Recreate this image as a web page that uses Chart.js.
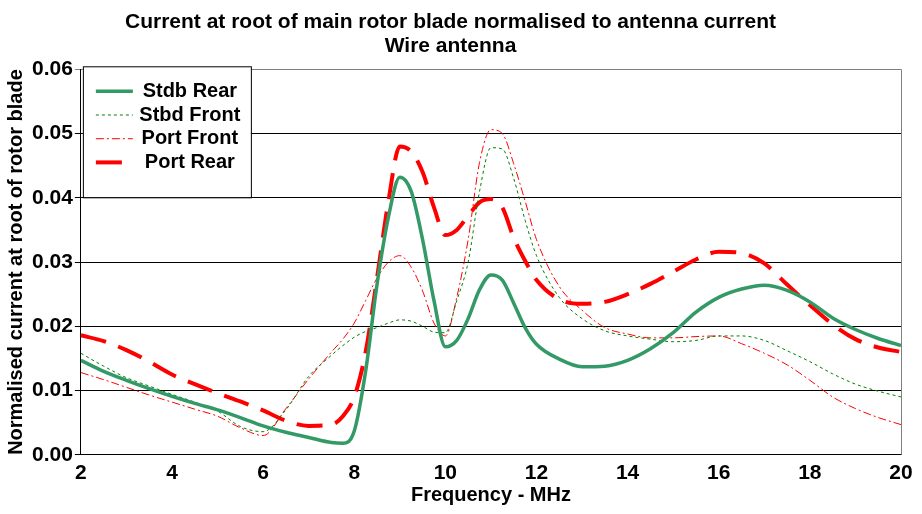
<!DOCTYPE html>
<html>
<head>
<meta charset="utf-8">
<script src="https://cdn.jsdelivr.net/npm/chart.js@4"></script>
<style>
  html, body { margin: 0; padding: 0; background: #fff; }
</style>
</head>
<body>
<canvas id="chart" width="922" height="514"></canvas>
<script>
// frequency points (MHz)
const freq = [2, 2.5, 3, 3.5, 4, 4.5, 5, 5.5, 6, 6.5, 7, 7.5, 7.75, 8, 8.25, 8.5, 8.75, 9, 9.25, 9.5, 9.75,
  10, 10.25, 10.5, 10.75, 11, 11.25, 11.5, 11.75, 12, 12.5, 13, 13.5, 14, 14.5, 15, 15.5, 16, 16.5, 17,
  17.5, 18, 18.5, 19, 19.5, 20];

const stdbRear = [0.0147, 0.0130, 0.0116, 0.0103, 0.0091, 0.0080, 0.0070, 0.0058, 0.0045, 0.0035, 0.0027,
  0.0019, 0.0018, 0.0037, 0.0130, 0.0265, 0.0370, 0.0432, 0.0410, 0.0335, 0.0240,
  0.0168, 0.0178, 0.0212, 0.0257, 0.0280, 0.0272, 0.0236, 0.0198, 0.0172, 0.0149, 0.0137, 0.0138, 0.0147,
  0.0165, 0.0190, 0.0222, 0.0245, 0.0258, 0.0264, 0.0256, 0.0238, 0.0213, 0.0195, 0.0181, 0.0170];

const stbdFront = [0.0158, 0.0138, 0.0120, 0.0107, 0.0094, 0.0082, 0.0068, 0.0044, 0.0036, 0.0070, 0.0122,
  0.0155, 0.0170, 0.0183, 0.0192, 0.0198, 0.0205, 0.0210, 0.0208, 0.0200, 0.0191,
  0.0190, 0.0240, 0.0300, 0.0410, 0.0478, 0.0476, 0.0430, 0.0365, 0.0310, 0.0245, 0.0212, 0.0193, 0.0185,
  0.0180, 0.0176, 0.0178, 0.0185, 0.0185, 0.0178, 0.0162, 0.0145, 0.0126, 0.0110, 0.0099, 0.0090];

const portFront = [0.0128, 0.0117, 0.0105, 0.0093, 0.0082, 0.0071, 0.0060, 0.0042, 0.0030, 0.0072, 0.0118,
  0.0160, 0.0180, 0.0205, 0.0240, 0.0275, 0.0300, 0.0310, 0.0292, 0.0255, 0.0205,
  0.0185, 0.0245, 0.0335, 0.0455, 0.0506, 0.0500, 0.0453, 0.0395, 0.0335, 0.0262, 0.0225, 0.0198, 0.0188,
  0.0182, 0.0182, 0.0184, 0.0185, 0.0173, 0.0158, 0.0140, 0.0116, 0.0090, 0.0072, 0.0058, 0.0047];

const portRear = [0.0186, 0.0177, 0.0163, 0.0145, 0.0125, 0.0110, 0.0096, 0.0083, 0.0069, 0.0053, 0.0045,
  0.0047, 0.0060, 0.0090, 0.0160, 0.0275, 0.0395, 0.0480, 0.0472, 0.0440, 0.0385,
  0.0342, 0.0350, 0.0372, 0.0393, 0.0398, 0.0385, 0.0338, 0.0302, 0.0272, 0.0242, 0.0235, 0.0238, 0.0250,
  0.0266, 0.0285, 0.0304, 0.0316, 0.0314, 0.0298, 0.0265, 0.0233, 0.0203, 0.0180, 0.0167, 0.0160];

const xTicks = [2, 4, 6, 8, 10, 12, 14, 16, 18, 20];
const yTicks = [0, 0.01, 0.02, 0.03, 0.04, 0.05, 0.06];

const FONT = '"Liberation Sans", Arial, sans-serif';

function pts(ys) {
    return freq.map((x, i) => ({ x: x, y: ys[i] }));
}

// legend box drawn inside the plot, top-left
const boxLegend = {
    id: 'boxLegend',
    afterDraw(chart) {
        const ctx = chart.ctx;
        const area = chart.chartArea;
        const x0 = area.left + 2, y0 = area.top - 3, w = 168, h = 131;
        ctx.save();
        ctx.fillStyle = '#fff';
        ctx.fillRect(x0, y0, w, h);
        ctx.strokeStyle = '#000';
        ctx.lineWidth = 1;
        ctx.strokeRect(x0 + 0.5, y0 + 0.5, w, h);
        ctx.font = 'bold 20px ' + FONT;
        ctx.textAlign = 'center';
        ctx.textBaseline = 'middle';
        chart.data.datasets.forEach((ds, i) => {
            const yy = y0 + 25 + i * 23.7;
            ctx.beginPath();
            ctx.setLineDash(ds.borderDash || []);
            ctx.strokeStyle = ds.borderColor;
            ctx.lineWidth = ds.borderWidth;
            ctx.moveTo(x0 + 13, yy);
            ctx.lineTo(x0 + 50, yy);
            ctx.stroke();
            ctx.setLineDash([]);
            ctx.fillStyle = '#000';
            ctx.fillText(ds.label, x0 + 107, yy);
        });
        ctx.restore();
    }
};

new Chart(document.getElementById('chart').getContext('2d'), {
    type: 'line',
    data: {
        datasets: [
            { label: 'Stdb Rear', data: pts(stdbRear), borderColor: '#339966', borderWidth: 3.5 },
            { label: 'Stbd Front', data: pts(stbdFront), borderColor: '#008000', borderWidth: 1, borderDash: [3, 3] },
            { label: 'Port Front', data: pts(portFront), borderColor: '#ff0000', borderWidth: 1, borderDash: [8, 3, 2, 3] },
            { label: 'Port Rear', data: pts(portRear), borderColor: '#ff0000', borderWidth: 4, borderDash: [26, 13] }
        ]
    },
    options: {
        responsive: false,
        animation: false,
        devicePixelRatio: 1,
        layout: { padding: { top: 0, right: 21, bottom: 0, left: 0 } },
        elements: {
            point: { radius: 0 },
            line: { cubicInterpolationMode: 'monotone', fill: false }
        },
        plugins: {
            legend: { display: false },
            tooltip: { enabled: false },
            title: {
                display: true,
                text: ['Current at root of main rotor blade normalised to antenna current', 'Wire antenna'],
                color: '#000',
                font: { family: FONT, size: 21, weight: 'bold', lineHeight: 1.15 },
                padding: { top: 10, bottom: 11 }
            }
        },
        scales: {
            x: {
                type: 'linear',
                min: 2, max: 20,
                afterBuildTicks: axis => { axis.ticks = xTicks.map(v => ({ value: v })); },
                grid: { display: false, drawTicks: true, tickLength: 6 },
                border: { color: '#000', width: 1 },
                ticks: { color: '#000', font: { family: FONT, size: 21, weight: 'bold' }, padding: 0, maxRotation: 0 },
                title: { display: true, text: 'Frequency - MHz', color: '#000',
                    font: { family: FONT, size: 20, weight: 'bold' }, padding: { top: -3, bottom: 7 } }
            },
            y: {
                min: 0, max: 0.06,
                afterBuildTicks: axis => { axis.ticks = yTicks.map(v => ({ value: v })); },
                grid: {
                    color: ctx => (ctx.tick && ctx.tick.value === 0.06) ? '#808080' : '#000',
                    lineWidth: 1,
                    tickLength: 6,
                    drawOnChartArea: true
                },
                border: { color: '#000', width: 1 },
                ticks: { color: '#000', font: { family: FONT, size: 21, weight: 'bold' }, padding: 2,
                    callback: v => v.toFixed(2) },
                title: { display: true, text: 'Normalised current at root of rotor blade', color: '#000',
                    font: { family: FONT, size: 20, weight: 'bold' }, padding: { top: 4, bottom: 2 } }
            }
        }
    },
    plugins: [boxLegend, {
        id: 'rightEdge',
        afterDatasetsDraw(chart) {
            const a = chart.chartArea, ctx = chart.ctx;
            ctx.save();
            ctx.strokeStyle = '#808080';
            ctx.lineWidth = 1;
            ctx.beginPath();
            ctx.moveTo(a.right + 0.5, a.top);
            ctx.lineTo(a.right + 0.5, a.bottom);
            ctx.stroke();
            ctx.restore();
        }
    }]
});
</script>
</body>
</html>
